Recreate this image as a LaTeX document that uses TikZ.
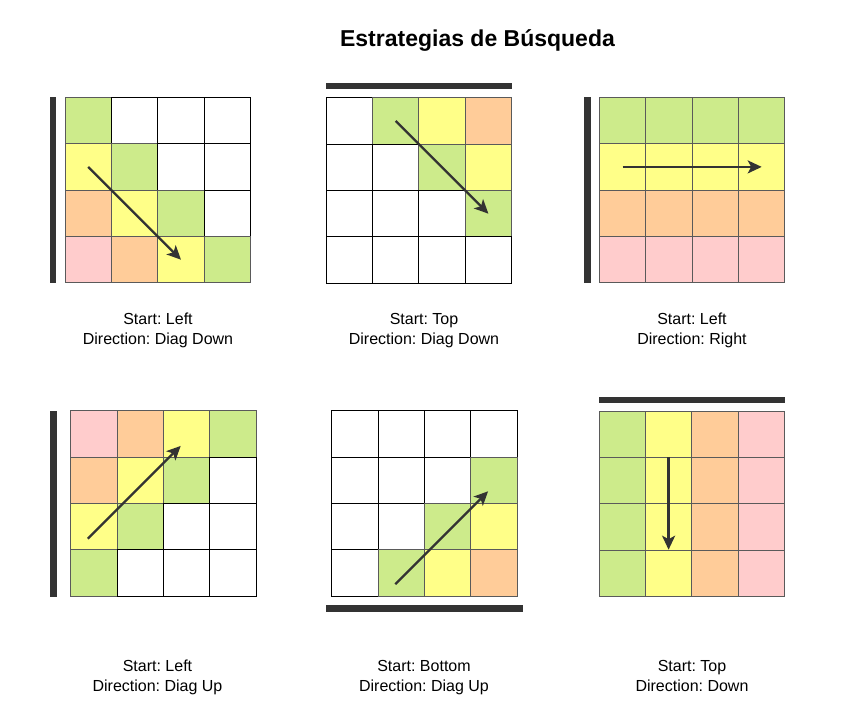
\documentclass[tikz,border=0pt]{standalone}
\usepackage{fontspec}
\setmainfont{Liberation Sans}
\usetikzlibrary{arrows.meta, calc}
\frenchspacing

\definecolor{cG}{HTML}{CDEB8B}
\definecolor{cY}{HTML}{FFFF88}
\definecolor{cO}{HTML}{FFCC99}
\definecolor{cP}{HTML}{FFCCCC}
\colorlet{cW}{white}
\colorlet{sW}{black}
\definecolor{sG}{HTML}{5A5A5A}
\colorlet{sY}{sG}
\colorlet{sO}{sG}
\colorlet{sP}{sG}
\definecolor{barc}{HTML}{333333}

% 4x4 search grid: name, left x, top y, 16 cell colours (row by row)
\newcommand{\searchgrid}[4]{%
  \foreach \c [count=\i from 0] in {#4} {
    \pgfmathtruncatemacro{\gr}{div(\i,4)}
    \pgfmathtruncatemacro{\gc}{mod(\i,4)}
    \node[cell, fill=c\c, draw=s\c] (#1-\gr\gc) at ({#2+(\gc+0.5)*46.4},{#3+(\gr+0.5)*46.4}) {};
  }%
}

\begin{document}
\begin{tikzpicture}[
  x=1pt, y=-1pt,
  cell/.style={draw, minimum size=46.4pt, inner sep=0pt, line width=1pt},
  bar/.style={fill=barc},
  lbl/.style={align=center, font=\fontsize{16}{20}\selectfont, anchor=base, inner sep=0pt},
  flow/.style={draw=barc, line width=2.3pt, -{Stealth[length=14pt, width=13pt, inset=3.5pt]}}
]
\useasboundingbox[fill=white] (0,0) rectangle (847,726);

\node[font=\fontsize{23}{28}\selectfont\bfseries, anchor=base, inner sep=0pt] (title) at (477.5,46.7) {Estrategias de Búsqueda};

% top row
\searchgrid{g1}{65}{97.3}{G,W,W,W, Y,G,W,W, O,Y,G,W, P,O,Y,G}
\searchgrid{g2}{326}{97.7}{W,G,Y,O, W,W,G,Y, W,W,W,G, W,W,W,W}
\searchgrid{g3}{599.3}{97.3}{G,G,G,G, Y,Y,Y,Y, O,O,O,O, P,P,P,P}

% bottom row
\searchgrid{g4}{70.7}{410.7}{P,O,Y,G, O,Y,G,W, Y,G,W,W, G,W,W,W}
\searchgrid{g5}{331.7}{410.7}{W,W,W,W, W,W,W,G, W,W,G,Y, W,G,Y,O}
\searchgrid{g6}{599}{411}{G,Y,O,P, G,Y,O,P, G,Y,O,P, G,Y,O,P}

% start sides
\fill[bar] (49.5,97) rectangle (56,283);
\fill[bar] (326,83.3) rectangle (512,89);
\fill[bar] (584,97) rectangle (591,283);
\fill[bar] (49.5,410.7) rectangle (56.5,596.7);
\fill[bar] (326,605) rectangle (523.3,611.7);
\fill[bar] (599,396.7) rectangle (785,402.7);

% directions
\draw[flow] (g1-10.center) -- (g1-32.center);
\draw[flow] (g2-01.center) -- (g2-23.center);
\draw[flow] (g3-10.center) -- (g3-13.center);
\coordinate (g4s) at ($(g4-20.center)+(-6,12)$);
\coordinate (g4e) at ($(g4-02.center)+(-6,12)$);
\draw[flow] (g4s) -- (g4e);
\coordinate (g5s) at ($(g5-31.center)+(-6,11)$);
\coordinate (g5e) at ($(g5-13.center)+(-6,11)$);
\draw[flow] (g5s) -- (g5e);
\draw[flow] (g6-11.north) -- (g6-31.north);

\node[lbl] (l1) at (158,344.3) {Start: Left\\Direction: Diag Down};
\node[lbl] (l2) at (424,344.3) {Start: Top\\Direction: Diag Down};
\node[lbl] (l3) at (692,344.3) {Start: Left\\Direction: Right};
\node[lbl] (l4) at (157.5,691.7) {Start: Left\\Direction: Diag Up};
\node[lbl] (l5) at (424,691.7) {Start: Bottom\\Direction: Diag Up};
\node[lbl] (l6) at (692,691.7) {Start: Top\\Direction: Down};
\end{tikzpicture}
\end{document}
